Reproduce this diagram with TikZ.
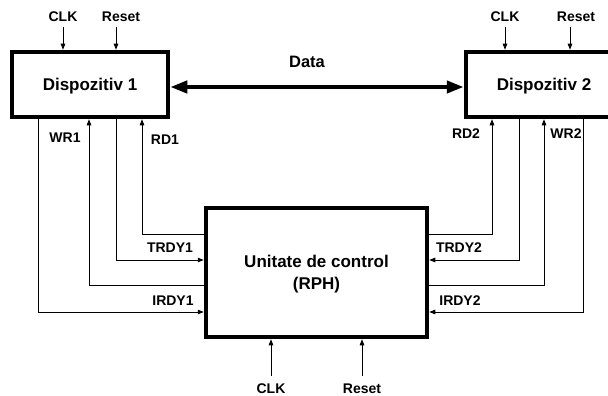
\documentclass[tikz,border=0pt]{standalone}
\usepackage{fontspec}
\setmainfont{Liberation Sans}
\usetikzlibrary{arrows.meta}
\begin{document}
\begin{tikzpicture}[x=1pt,y=-1pt,
  box/.style={draw, line width=4.5pt, inner sep=0pt, font=\fontsize{17}{20}\selectfont\bfseries, text height=12.2pt, text depth=0pt},
  lbl/.style={font=\fontsize{14}{16}\selectfont\bfseries, anchor=base, inner sep=0pt},
  biglbl/.style={font=\fontsize{17}{22}\selectfont\bfseries, align=center},
  sig/.style={line width=0.8pt, -{Triangle[length=6pt,width=4.5pt]}},
  data/.style={line width=4pt, {Triangle[length=17pt,width=12pt]}-{Triangle[length=17pt,width=12pt]}}
]
\useasboundingbox (0,0) rectangle (608,396);

% boxes
\node[box, minimum width=156pt, minimum height=65pt] (D1) at (90,84.5) {Dispozitiv 1};
\node[box, minimum width=156pt, minimum height=65pt] (D2) at (544,84.5) {Dispozitiv 2};
\node[box, minimum width=221pt, minimum height=129pt,
      label={[biglbl, yshift=-2pt]center:Unitate de control\\(RPH)}] (CU) at (316.5,272.5) {};

% data bus
\coordinate (yD) at (0,87);
\draw[data] (D1.east |- yD) -- (D2.west |- yD);
\node[font=\fontsize{16.5}{20}\selectfont\bfseries, anchor=base, inner sep=0pt] (data) at (307,68) {Data};

% clock / reset inputs
\coordinate (c1) at (63,27);  \coordinate (r1) at (116,27);
\coordinate (c2) at (505,27); \coordinate (r2) at (570,27);
\coordinate (c3) at (271,376); \coordinate (r3) at (362,376);
\draw[sig] (c1) -- (D1.north -| c1);
\draw[sig] (r1) -- (D1.north -| r1);
\draw[sig] (c2) -- (D2.north -| c2);
\draw[sig] (r2) -- (D2.north -| r2);
\draw[sig] (c3) -- (CU.south -| c3);
\draw[sig] (r3) -- (CU.south -| r3);
\node[lbl] (lc1) at (63,22) {CLK};
\node[lbl] (lr1) at (121,22) {Reset};
\node[lbl] (lc2) at (505,22) {CLK};
\node[lbl] (lr2) at (576,22) {Reset};
\node[lbl] (lc3) at (271,393) {CLK};
\node[lbl] (lr3) at (362,393) {Reset};

% signal lines
\coordinate (ya) at (0,312); \coordinate (yb) at (0,285);
\coordinate (yc) at (0,260); \coordinate (yd) at (0,234);
\coordinate (xa) at (38,0);  \coordinate (xb) at (89,0);
\coordinate (xc) at (116,0); \coordinate (xd) at (142,0);
\coordinate (xe) at (492,0); \coordinate (xf) at (519,0);
\coordinate (xg) at (544,0); \coordinate (xh) at (583,0);

\draw[sig] (D1.south -| xa) |- (CU.west |- ya);
\draw[sig] (CU.west |- yb) -| (D1.south -| xb);
\draw[sig] (D1.south -| xc) |- (CU.west |- yc);
\draw[sig] (CU.west |- yd) -| (D1.south -| xd);

\draw[sig] (CU.east |- yd) -| (D2.south -| xe);
\draw[sig] (D2.south -| xf) |- (CU.east |- yc);
\draw[sig] (CU.east |- yb) -| (D2.south -| xg);
\draw[sig] (D2.south -| xh) |- (CU.east |- ya);

% signal labels
\node[lbl] (wr1) at (65,142) {WR1};
\node[lbl] (rd1) at (165,144) {RD1};
\node[lbl] (rd2) at (466,138) {RD2};
\node[lbl] (wr2) at (566,138) {WR2};
\node[lbl] (trdy1) at (170,252) {TRDY1};
\node[lbl] (irdy1) at (173,305) {IRDY1};
\node[lbl] (trdy2) at (459,252) {TRDY2};
\node[lbl] (irdy2) at (460,305) {IRDY2};
\end{tikzpicture}
\end{document}
